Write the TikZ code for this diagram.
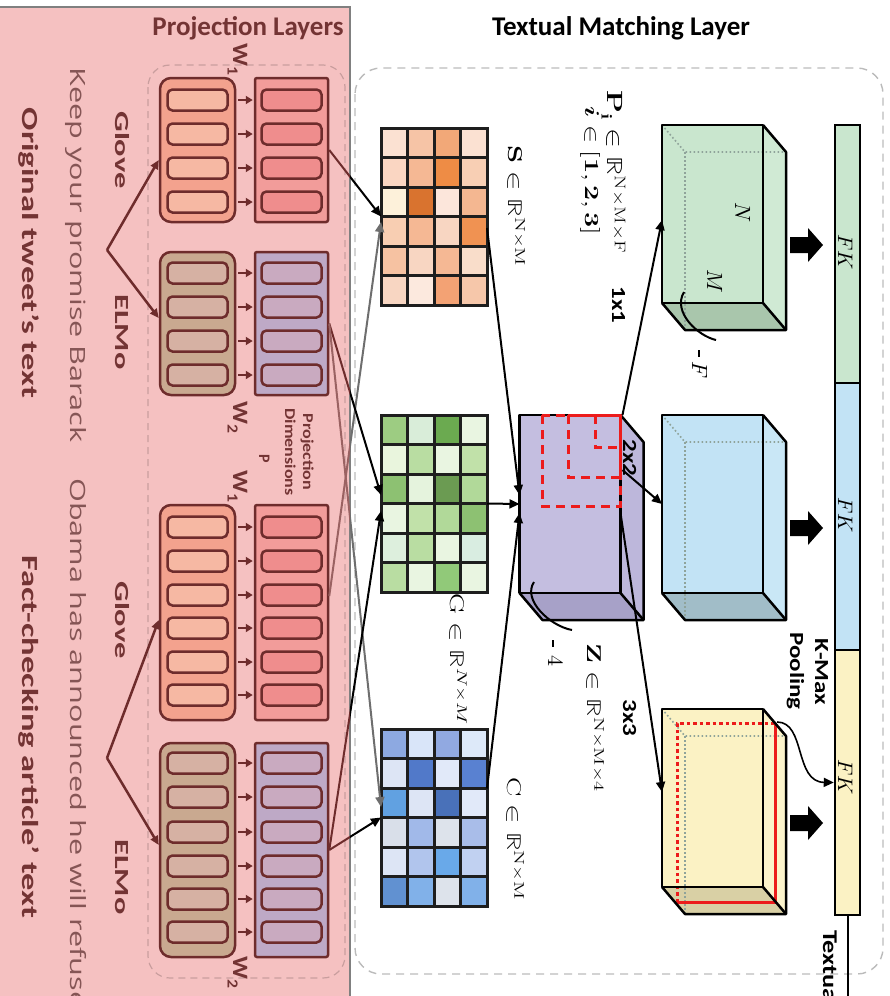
\documentclass[tikz,border=0pt]{standalone}
\usepackage{graphicx}
\usepackage{fontspec}
\usepackage{unicode-math}
\usetikzlibrary{arrows.meta,calc}
\newfontfamily\carl{Carlito}
\newfontfamily\osans{Open Sans}
\newcommand\fs[1]{\fontsize{#1}{#1}\selectfont}
\newcommand\st[2]{\scalebox{#1}[1]{#2}}
\definecolor{pinkbg}{HTML}{F5C1C1}
\definecolor{dred}{HTML}{6E2C2C}
\definecolor{txtred}{HTML}{733434}
\definecolor{sentc}{HTML}{855555}
\definecolor{pdashc}{HTML}{C99E9E}
\definecolor{tdashc}{HTML}{BBBBBB}
\definecolor{gloveF}{HTML}{F3A28E}
\definecolor{gloveB}{HTML}{F6B8A3}
\definecolor{gprojF}{HTML}{F29C9A}
\definecolor{gprojB}{HTML}{EF8D8D}
\definecolor{elmoF}{HTML}{C9A990}
\definecolor{elmoB}{HTML}{D6B1A3}
\definecolor{eprojF}{HTML}{BEA9C6}
\definecolor{eprojB}{HTML}{C9AAC0}
\definecolor{gridc}{HTML}{1E1E1E}
\definecolor{zF}{HTML}{C4BEE0}
\definecolor{zS}{HTML}{BDB7DB}
\definecolor{zB}{HTML}{A7A1C8}
\definecolor{p1F}{HTML}{C9E6CE}
\definecolor{p1S}{HTML}{D0EAD4}
\definecolor{p1B}{HTML}{A9C6AC}
\definecolor{p2F}{HTML}{C2E3F5}
\definecolor{p2S}{HTML}{C9E7F6}
\definecolor{p2B}{HTML}{A1BDC8}
\definecolor{p3F}{HTML}{FBF2C4}
\definecolor{p3S}{HTML}{FBF3CB}
\definecolor{p3B}{HTML}{D9D0A5}
\definecolor{hidg}{HTML}{8FA39A}
\definecolor{redl}{HTML}{EC1C1C}
\definecolor{inpinkgray}{HTML}{9A6262}
\definecolor{midgray}{HTML}{6E6E6E}

\newcommand\embgroup[8]{%
  \node[embox,fill=#5,minimum height=#3pt] (#1e) at (197.5,#2) {};
  \node[projbox,fill=#7,minimum height=#3pt] (#1p) at (291.5,#2) {};
  \foreach \yy [count=\j] in {#4} {
    \node[embar,fill=#6] (#1eb\j) at (197.5,\yy) {};
    \node[embar,fill=#8] (#1pb\j) at (291.5,\yy) {};
    \draw[smallarr] (#1eb\j.east) -- (#1pb\j.west);
  }%
}
\newcommand\drawgrid[2]{%
  \foreach \c [count=\i from 0] in {#2} {
    \pgfmathtruncatemacro\rr{\i/4}
    \pgfmathtruncatemacro\kk{\i-4*\rr}
    \definecolor{cellc}{HTML}{\c}
    \fill[cellc] ($(#1.north west)+(\kk*26.5,\rr*29.5)$) rectangle ++(26.5,29.5);
  }
  \foreach \k in {0,...,4} \draw[gridline] ($(#1.north west)+(\k*26.5,0)$) -- ++(0,177);
  \foreach \r in {0,...,6} \draw[gridline] ($(#1.north west)+(0,\r*29.5)$) -- ++(106,0);
}
\newcommand\cubefaces[3]{%
  \fill[#2] (#1.north east) -- ($(#1.north east)+(23,27)$) -- ($(#1.south east)+(23,27)$) -- (#1.south east) -- cycle;
  \fill[#3] (#1.south west) -- (#1.south east) -- ($(#1.south east)+(23,27)$) -- ($(#1.south west)+(23,27)$) -- cycle;
}
\newcommand\cubehidden[1]{%
  \draw[hidg,hid] (#1.north west) -- ($(#1.north west)+(23,27)$) -- ($(#1.north east)+(23,27)$);
  \draw[hidg,hid] ($(#1.north west)+(23,27)$) -- ($(#1.south west)+(23,27)$);
}
\newcommand\cubeedges[1]{%
  \draw[cubeedge] (#1.north east) -- ($(#1.north east)+(23,27)$) -- ($(#1.south east)+(23,27)$) -- ($(#1.south west)+(23,27)$) -- (#1.south west);
  \draw[cubeedge] (#1.south east) -- ($(#1.south east)+(23,27)$);
  \draw[cubeedge] (#1.north west) rectangle (#1.south east);
}
\newcommand\blockarr[1]{%
  \fill[black] ($#1+(0,-8)$) -- ++(18,0) -- ++(0,-9) -- ++(15,17) -- ++(-15,17) -- ++(0,-9) -- ++(-18,0) -- cycle;
}
\newcommand\projconns[2]{%
  \draw[conn,#1] (gap.east) -- (S.west);
  \draw[conn,#2] ([yshift=16.5pt]gbp.east) -- ([yshift=-5.5pt]S.west);
  \draw[conn,#1] (eap.east) -- ([yshift=8.5pt]G.west);
  \draw[conn,#2] (eap.east) -- ([yshift=10.5pt]C.west);
  \draw[conn,#1] (ebp.east) -- ([yshift=-7.5pt]G.west);
  \draw[conn,#1] (ebp.east) -- (C.west);
}

\begin{document}
\begin{tikzpicture}[x=1pt,y=-1pt,
  embox/.style={draw=dred,line width=2.5pt,rounded corners=11pt,inner sep=0pt,minimum width=75pt},
  projbox/.style={draw=dred,line width=2.5pt,rounded corners=2pt,inner sep=0pt,minimum width=73pt},
  embar/.style={draw=dred,line width=2.5pt,rounded corners=5pt,inner sep=0pt,minimum width=60pt,minimum height=21pt},
  smallarr/.style={draw=dred,line width=2pt,-{Triangle[length=7pt,width=8pt]},shorten <=9.5pt,shorten >=7.5pt},
  brownarr/.style={draw=dred,line width=2.5pt,-{Triangle[length=9pt,width=8pt]}},
  conn/.style={line width=2pt,-{Triangle[length=10pt,width=9pt]}},
  mat/.style={inner sep=0pt,outer sep=0pt,minimum width=106pt,minimum height=177pt},
  gridline/.style={draw=gridc,line width=3pt,line cap=rect},
  cube/.style={inner sep=0pt,outer sep=0pt,minimum width=101pt,minimum height=178pt},
  cubeedge/.style={draw=black,line width=2.5pt,line join=round},
  hid/.style={line width=1.6pt,dash pattern=on 1.6pt off 2.4pt},
  vt/.style={rotate=-90,inner sep=0pt,anchor=base},
  fkbar/.style={draw=black,line width=2.5pt,inner sep=0pt,minimum width=25pt},
]
\useasboundingbox (0,0) rectangle (890,996);
% backgrounds
\fill[pinkbg] (0,7) rectangle (350,996);
\draw[gray,line width=1.5pt] (0,7) -- (350,7) -- (350,996);
\draw[pdashc,line width=1.2pt,dash pattern=on 7pt off 5pt,rounded corners=22pt] (148,65) rectangle (345,978);
\draw[tdashc,line width=1.4pt,dash pattern=on 8pt off 6pt,rounded corners=26pt] (355,68) rectangle (883,974);
% headers
\node[txtred,inner sep=0pt] (hPL) at (248,28) {\fs{27}\carl\bfseries Projection Layers};
\node[black,inner sep=0pt] (hTM) at (621,28) {\fs{27}\carl\bfseries Textual Matching Layer};
% left texts
\node[vt,txtred] (tOrig) at (22,253) {\fs{23}\carl\bfseries\st{1.5}{Original tweet’s text}};
\node[vt,txtred] (tFact) at (22,737) {\fs{23}\carl\bfseries\st{1.5}{Fact-checking article’ text}};
\node[vt,sentc] (tKeep) at (70,255) {\fs{21}\osans\st{1.46}{Keep your promise Barack}};
\node[vt,sentc,anchor=base west] (tObama) at (70,478) {\fs{21}\osans\st{1.46}{Obama has announced he will refuse}};
\node[vt,txtred] (tG1) at (115,150) {\fs{20}\carl\bfseries\st{1.62}{Glove}};
\node[vt,txtred] (tE1) at (115,332) {\fs{20}\carl\bfseries\st{1.62}{ELMo}};
\node[vt,txtred] (tG2) at (115,620) {\fs{20}\carl\bfseries\st{1.62}{Glove}};
\node[vt,txtred] (tE2) at (115,877) {\fs{20}\carl\bfseries\st{1.62}{ELMo}};
% embedding groups
\embgroup{ga}{150}{144}{100,134,168,202}{gloveF}{gloveB}{gprojF}{gprojB}
\embgroup{ea}{323.5}{143}{273,307,341,375}{elmoF}{elmoB}{eprojF}{eprojB}
\embgroup{gb}{612.5}{215}{527,561,595,628,662,695}{gloveF}{gloveB}{gprojF}{gprojB}
\embgroup{eb}{850}{214}{763,797,832,866,899,932}{elmoF}{elmoB}{eprojF}{eprojB}
% W labels
\node[vt,txtred] (w1a) at (233,60) {\fs{22}\carl\bfseries\st{1.15}{W\textsubscript{1}}};
\node[vt,txtred] (w2a) at (233,418) {\fs{22}\carl\bfseries\st{1.15}{W\textsubscript{2}}};
\node[vt,txtred] (w1b) at (233,487) {\fs{22}\carl\bfseries\st{1.15}{W\textsubscript{1}}};
\node[vt,txtred] (w2b) at (233,973) {\fs{22}\carl\bfseries\st{1.15}{W\textsubscript{2}}};
\node[vt,txtred] (tProj) at (303,452) {\fs{15}\carl\bfseries\st{1.2}{Projection}};
\node[vt,txtred] (tDim) at (285,452) {\fs{15}\carl\bfseries\st{1.2}{Dimensions}};
\node[vt,txtred] (tP) at (259,459) {\fs{16}\carl\bfseries P};
% label arrows
\coordinate (va) at (107,250);
\coordinate (vb) at (107,758);
\draw[brownarr] (va) -- ([yshift=-10pt]gae.west);
\draw[brownarr] (va) -- ([yshift=5.5pt]eae.west);
\draw[brownarr] (vb) -- ([yshift=-7.5pt]gbe.west);
\draw[brownarr] (vb) -- ([yshift=5pt]ebe.west);
% matrices
\node[mat] (S) at (434,216.5) {};
\node[mat] (G) at (434,503.5) {};
\node[mat] (C) at (434,817.5) {};
\drawgrid{S}{FBE1D2,F6C4A6,F2A878,FBE1D2,FAD6C2,F5B894,EE8C45,F8CFB4,FDF1DA,D9732F,FCE6DB,F4B791,F8CEB2,F5B894,F8D6C2,F09252,F6C2A2,F8D6C2,F5B894,F9DDCA,F8D6C2,FCE9DE,F3A274,F6C7AA}
\drawgrid{G}{9DCC82,D9EDD9,6BAA50,E9F5E1,E9F5DD,B9DDA2,E9F5E1,C1E1A9,8DC172,E5F3DD,6B9B52,B1D999,E9F5E1,C1E1A9,B1D999,8DC172,DDEFDD,B9DDA2,E9F5E1,D9EDE1,B9DDA2,E9F5E1,91C979,E9F5E1}
\drawgrid{C}{8DA9E1,D9E5F9,91A9E1,DDE9F9,DDE5F5,5179C9,E1E9F9,5981D1,61A1E1,DDE5F5,4971B9,E1E9F9,D9DFE9,A1B9E9,DDE3EB,A9BDE9,DDE5F5,B1C5ED,69A9E9,C1D1F1,6191D1,81B1E9,DDE3EB,81B1E9}
% cubes
\node[cube,fill=zF] (Z) at (570,504) {};
\cubefaces{Z}{zS}{zB}
\cubeedges{Z}
\draw[redl,line width=3pt,dash pattern=on 9pt off 6pt] (542,415) rectangle (620,506);
\draw[redl,line width=3pt,dash pattern=on 9pt off 6pt] (568,415) rectangle (620,477);
\draw[redl,line width=3pt,dash pattern=on 9pt off 6pt] (595,415) rectangle (620,447);
\node[cube,fill=p1F] (P1) at (712.5,214) {};
\cubefaces{P1}{p1S}{p1B}
\cubehidden{P1}
\cubeedges{P1}
\node[cube,fill=p2F] (P2) at (712.5,504) {};
\cubefaces{P2}{p2S}{p2B}
\cubehidden{P2}
\cubeedges{P2}
\node[cube,fill=p3F] (P3) at (712.5,798) {};
\cubefaces{P3}{p3S}{p3B}
\cubehidden{P3}
\draw[redl,line width=3pt,dash pattern=on 3.5pt off 3pt] (677,902) -- (677,723) -- (775,723);
\draw[redl,line width=3pt] (775,723) -- (775,902) -- (677,902);
\cubeedges{P3}
% connectors from projection layers (tinted inside pink)
\begin{scope}
  \clip (0,0) rectangle (350,996);
  \projconns{dred}{inpinkgray}
\end{scope}
\begin{scope}
  \clip (350,0) rectangle (890,996);
  \projconns{black}{midgray}
\end{scope}
% matrices to Z, Z to cubes
\draw[conn] ([yshift=-11.5pt]S.east) -- ([yshift=9pt]Z.west);
\draw[conn] (G.east) -- (Z.west);
\draw[conn] ([yshift=29pt]C.east) -- ([yshift=-9pt]Z.west);
\draw[conn] ([xshift=2pt]Z.north east) -- ([yshift=-6pt]P1.west);
\draw[conn] ([xshift=2pt,yshift=34pt]Z.east) -- (P2.west);
\draw[conn] ([yshift=-9pt]Z.east) -- ([yshift=6pt]P3.west);
% brackets
\draw[black,line width=2pt] (534,582) .. controls (522,600) and (550,626) .. (572,630);
\draw[black,line width=1.5pt] (553,640) -- (553,647);
\node[vt] (l4) at (548,661) {\fs{22}$4$};
\draw[black,line width=2pt] (684,292) .. controls (672,312) and (698,336) .. (716,340);
\draw[black,line width=1.5pt] (699,350) -- (699,357);
\node[vt] (lF) at (692,370) {\fs{22}$F$};
\node[vt] (lN) at (735,212) {\fs{22}$N$};
\node[vt] (lM) at (707,281) {\fs{22}$M$};
% matrix labels
\node[vt] (lS) at (508,206) {\fs{20}\st{1.45}{$\mathbf{S}\in\mathbb{R}^{\mathrm{N\times M}}$}};
\node[vt] (lG) at (450,659) {\fs{20}\st{1.45}{$\mathrm{G}\in\mathbb{R}^{N\times M}$}};
\node[vt] (lC) at (507,839) {\fs{20}\st{1.45}{$\mathrm{C}\in\mathbb{R}^{\mathrm{N\times M}}$}};
\node[vt] (lZ) at (587,718) {\fs{20}\st{1.45}{$\mathbf{Z}\in\mathbb{R}^{\mathrm{N\times M\times 4}}$}};
\node[vt] (lP) at (607,172) {\fs{22}\st{1.35}{$\mathbf{P}_{\mathbf{i}}\in\mathbb{R}^{\mathrm{N\times M\times F}}$}};
\node[vt] (lI) at (585,171) {\fs{20}\st{1.35}{$\symbfit{i}\in\mathbf{[1,2,3]}$}};
\node[vt] (k1) at (612,305) {\fs{20}\carl\bfseries\st{1.25}{1x1}};
\node[vt] (k2) at (623,458) {\fs{20}\carl\bfseries\st{1.25}{2x2}};
\node[vt] (k3) at (623,718) {\fs{20}\carl\bfseries\st{1.25}{3x3}};
% FK bar
\node[fkbar,fill=p1F,minimum height=258pt] (fk1) at (847.5,254) {};
\node[fkbar,fill=p2F,minimum height=267pt] (fk2) at (847.5,516.5) {};
\node[fkbar,fill=p3F,minimum height=265pt] (fk3) at (847.5,782.5) {};
\node[rotate=-90,inner sep=0pt] (fkl1) at (846,252) {\fs{21}$FK$};
\node[rotate=-90,inner sep=0pt] (fkl2) at (846,515) {\fs{21}$FK$};
\node[rotate=-90,inner sep=0pt] (fkl3) at (846,777) {\fs{21}$FK$};
\blockarr{(790,245)}
\blockarr{(790,528)}
\blockarr{(790,823)}
\coordinate (kmstart) at (777,722);
\draw[conn,line width=1.6pt] (kmstart) .. controls (806,722) and (794,782) .. (fk3.west);
\node[vt] (tKM) at (815,672) {\fs{20}\carl\bfseries\st{1.25}{K-Max}};
\node[vt] (tPool) at (790,671) {\fs{20}\carl\bfseries\st{1.25}{Pooling}};
\coordinate (outend) at (847.5,996);
\draw[line width=2pt] (fk3.south) -- (outend);
\node[vt,anchor=base west] (tTex) at (823,930) {\fs{21}\carl\bfseries\st{1.25}{Textual}};
\end{tikzpicture}
\end{document}
